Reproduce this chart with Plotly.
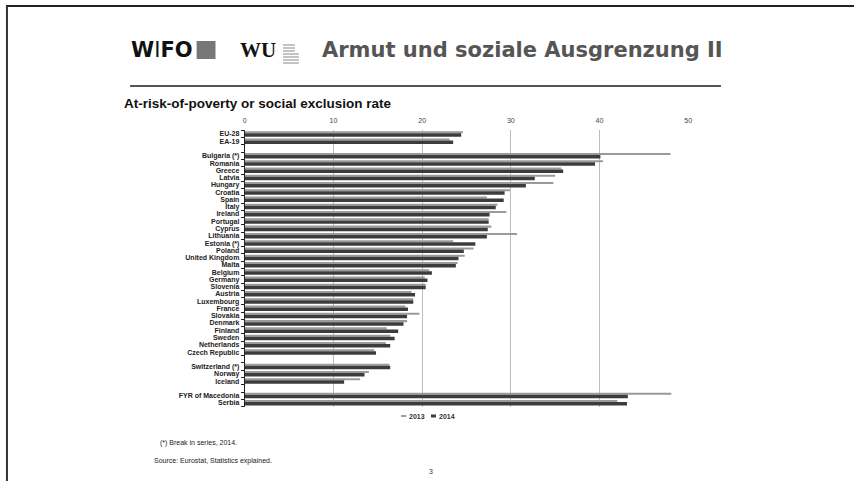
import plotly.graph_objects as go

W, H = 858, 481

categories = ["EU-28", "EA-19", " ",
              "Bulgaria (*)", "Romania", "Greece", "Latvia", "Hungary", "Croatia", "Spain",
              "Italy", "Ireland", "Portugal", "Cyprus", "Lithuania", "Estonia (*)", "Poland",
              "United Kingdom", "Malta", "Belgium", "Germany", "Slovenia", "Austria",
              "Luxembourg", "France", "Slovakia", "Denmark", "Finland", "Sweden",
              "Netherlands", "Czech Republic", "  ",
              "Switzerland (*)", "Norway", "Iceland", "   ",
              "FYR of Macedonia", "Serbia"]

values_2013 = [24.6, 23.1, None,
               48.0, 40.4, 35.7, 35.0, 34.8, 29.9, 27.3,
               28.5, 29.5, 27.5, 27.8, 30.7, 23.5, 25.8,
               24.8, 24.0, 20.8, 20.3, 20.4, 18.8,
               19.0, 18.1, 19.7, 18.3, 16.0, 16.4,
               15.9, 14.6, None,
               16.3, 14.0, 13.0, None,
               48.1, 42.0]

values_2014 = [24.4, 23.5, None,
               40.1, 39.5, 35.9, 32.7, 31.7, 29.3, 29.2,
               28.3, 27.6, 27.5, 27.4, 27.3, 26.0, 24.7,
               24.1, 23.8, 21.1, 20.6, 20.4, 19.2,
               19.0, 18.4, 18.3, 17.9, 17.3, 16.9,
               16.4, 14.8, None,
               16.4, 13.5, 11.2, None,
               43.2, 43.1]

series_names = ["2013", "2014"]
x_ticks = [0, 10, 20, 30, 40, 50]


def px(x):
    return x / W


def py(y):
    return 1 - y / H


fig = go.Figure()
fig.add_trace(go.Bar(y=categories, x=values_2013, orientation="h", name=series_names[0],
                     marker=dict(color="#9a9a9a", line=dict(width=0)),
                     width=0.28, offset=-0.40))
fig.add_trace(go.Bar(y=categories, x=values_2014, orientation="h", name=series_names[1],
                     marker=dict(color="#3c3c3c", line=dict(width=0)),
                     width=0.48, offset=-0.12))

fig.update_layout(
    width=W, height=H,
    margin=dict(l=0, r=0, t=0, b=0),
    paper_bgcolor="white", plot_bgcolor="white",
    barmode="overlay",
    showlegend=False,
    font=dict(family="Liberation Sans, Arial, sans-serif", color="#222"),
    xaxis=dict(domain=[px(244.5), px(691)], range=[0, 50], side="top",
               tickvals=x_ticks, ticktext=[str(v) for v in x_ticks],
               tickfont=dict(size=7, color="#444"), ticklabelstandoff=5,
               showgrid=True, gridcolor="#bdbdbd", gridwidth=1,
               zeroline=False, showline=False, ticks="", fixedrange=True),
    yaxis=dict(domain=[py(406.6), py(130.4)], autorange="reversed",
               type="category", categoryorder="array", categoryarray=categories,
               tickmode="array", tickvals=categories, ticktext=categories,
               tickfont=dict(size=7, color="#222", family="Liberation Sans, Arial, sans-serif",
                             weight="bold"),
               ticklabelstandoff=3,
               showline=True, linecolor="#222", linewidth=1,
               ticks="outside", ticklen=3, tickcolor="#222", tickson="boundaries",
               showgrid=False, fixedrange=True),
)

shapes = []
# slide frame (top and left edges)
shapes.append(dict(type="line", xref="paper", yref="paper", x0=px(4), x1=px(858), y0=py(6), y1=py(6),
                   line=dict(color="#222", width=2)))
shapes.append(dict(type="line", xref="paper", yref="paper", x0=px(5), x1=px(5), y0=py(6), y1=py(481),
                   line=dict(color="#333", width=2)))
# rule under title
shapes.append(dict(type="line", xref="paper", yref="paper", x0=px(129), x1=px(724), y0=py(86), y1=py(86),
                   line=dict(color="#555", width=2)))
# WIFO square
shapes.append(dict(type="rect", xref="paper", yref="paper", x0=px(196), x1=px(215), y0=py(41), y1=py(59),
                   fillcolor="#777", line=dict(width=0)))
# WU small text lines
for i, yy in enumerate([45, 48, 51, 54, 57, 60, 63]):
    shapes.append(dict(type="line", xref="paper", yref="paper", x0=px(283), x1=px(299 if i > 2 else 295),
                       y0=py(yy), y1=py(yy), line=dict(color="#888", width=1)))
# legend swatches
shapes.append(dict(type="line", xref="paper", yref="paper", x0=px(402), x1=px(407), y0=py(416), y1=py(416),
                   line=dict(color="#9a9a9a", width=2)))
shapes.append(dict(type="line", xref="paper", yref="paper", x0=px(432), x1=px(437), y0=py(416), y1=py(416),
                   line=dict(color="#3c3c3c", width=3)))
fig.update_layout(shapes=shapes)

ann = []
ann.append(dict(text="<b>W</b>I<b>FO</b>", x=px(128), y=py(50), xanchor="left", yanchor="middle",
                font=dict(size=21, color="#111", family="DejaVu Sans, Liberation Sans")))
ann.append(dict(text="<b>WU</b>", x=px(238), y=py(50), xanchor="left", yanchor="middle",
                font=dict(size=21, color="#111", family="Liberation Serif, DejaVu Serif")))
ann.append(dict(text="Armut und soziale Ausgrenzung II", x=px(320), y=py(50), xanchor="left", yanchor="middle",
                font=dict(size=21, color="#555", family="DejaVu Sans, sans-serif", weight="bold")))
ann.append(dict(text="<b>At-risk-of-poverty or social exclusion rate</b>", x=px(121), y=py(103),
                xanchor="left", yanchor="middle", font=dict(size=13.5, color="#111", family="Liberation Sans, Arial")))
ann.append(dict(text=series_names[0], x=px(408), y=py(416), xanchor="left", yanchor="middle",
                font=dict(size=7, color="#333", family="Liberation Sans, Arial", weight="bold")))
ann.append(dict(text=series_names[1], x=px(438), y=py(416), xanchor="left", yanchor="middle",
                font=dict(size=7, color="#333", family="Liberation Sans, Arial", weight="bold")))
ann.append(dict(text="(*) Break in series, 2014.", x=px(157), y=py(443), xanchor="left", yanchor="middle",
                font=dict(size=7, color="#222", family="Liberation Sans, Arial")))
ann.append(dict(text="Source: Eurostat, Statistics explained.", x=px(151), y=py(461), xanchor="left",
                yanchor="middle", font=dict(size=7, color="#222", family="Liberation Sans, Arial")))
ann.append(dict(text="3", x=px(432), y=py(471), xanchor="center", yanchor="middle",
                font=dict(size=7, color="#333", family="Liberation Sans, Arial")))
for a in ann:
    a.update(xref="paper", yref="paper", showarrow=False)
fig.update_layout(annotations=ann)

fig.write_html("out.html", config={"displayModeBar": False},
               post_script="document.body.style.margin='0';document.body.style.overflow='hidden';")
